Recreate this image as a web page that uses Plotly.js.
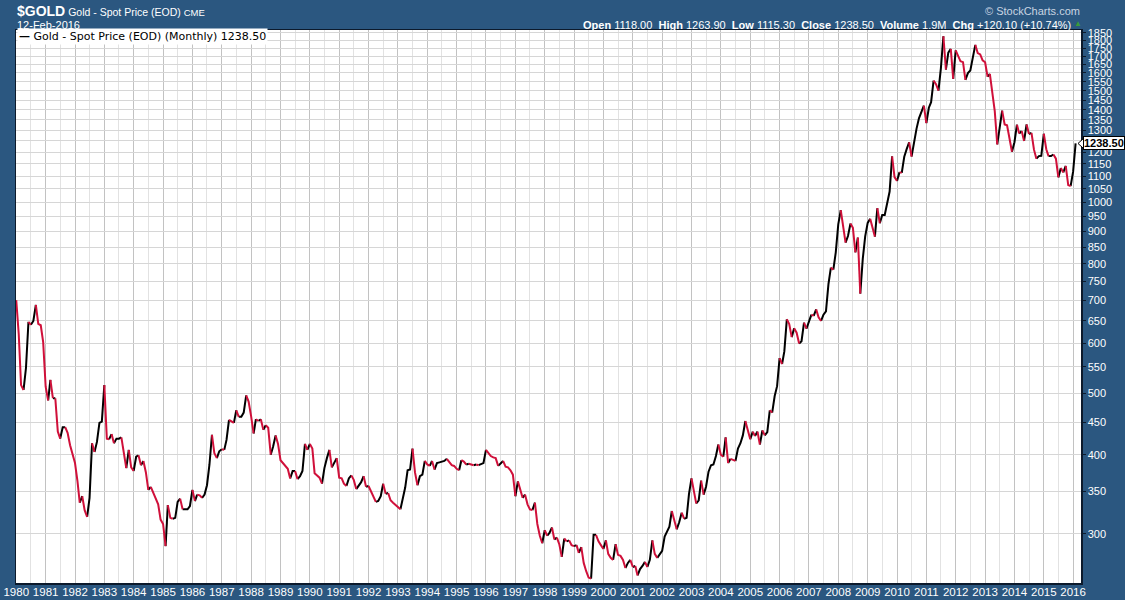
<!DOCTYPE html>
<html>
<head>
<meta charset="utf-8">
<script src="https://cdn.plot.ly/plotly-3.0.1.min.js"></script>
<style>
html,body{margin:0;padding:0;background:#2b5780;}
#chart{width:1125px;height:600px;}
</style>
</head>
<body>
<div id="chart"></div>
<script>
// Monthly closes of $GOLD (Jan .. Dec of each year)
const y1980 = [701, 620, 515, 506, 548, 648, 641, 650, 689, 643, 640, 602];
const y1981 = [512, 487, 525, 491, 491, 435, 424, 442, 442, 433, 414, 400];
const y1982 = [388, 363, 336, 344, 327, 319, 342, 417, 404, 419, 449, 451];
const y1983 = [515, 424, 423, 431, 417, 424, 424, 426, 405, 381, 407, 382];
const y1984 = [377, 397, 399, 385, 391, 375, 352, 356, 348, 340, 334, 316];
const y1985 = [311, 287, 333, 318, 317, 318, 337, 341, 328, 328, 328, 332];
const y1986 = [352, 338, 346, 345, 342, 346, 358, 386, 430, 402, 395, 405];
const y1987 = [408, 407, 422, 454, 452, 449, 470, 459, 459, 466, 496, 485];
const y1988 = [460, 432, 455, 452, 455, 438, 445, 441, 400, 412, 429, 416];
const y1989 = [392, 388, 385, 380, 367, 377, 377, 366, 370, 377, 416, 407];
const y1990 = [416, 409, 374, 371, 368, 360, 381, 395, 407, 382, 388, 395];
const y1991 = [368, 367, 360, 357, 367, 371, 365, 353, 358, 362, 370, 356];
const y1992 = [357, 350, 344, 337, 338, 344, 360, 347, 348, 339, 336, 333];
const y1993 = [331, 328, 342, 355, 378, 379, 409, 375, 358, 370, 372, 391];
const y1994 = [386, 384, 391, 379, 388, 389, 390, 391, 394, 389, 385, 384];
const y1995 = [380, 378, 392, 390, 386, 387, 386, 385, 386, 385, 387, 388];
const y1996 = [407, 402, 398, 396, 395, 384, 388, 391, 383, 382, 378, 372];
const y1997 = [344, 363, 352, 342, 346, 334, 328, 327, 336, 311, 298, 290];
const y1998 = [304, 298, 301, 307, 294, 296, 289, 276, 295, 292, 293, 288];
const y1999 = [287, 288, 280, 286, 270, 262, 256, 255, 299, 299, 292, 288];
const y2000 = [284, 293, 279, 275, 273, 289, 278, 277, 273, 265, 270, 273];
const y2001 = [266, 267, 258, 264, 267, 271, 266, 273, 293, 279, 275, 279];
const y2002 = [282, 297, 302, 308, 326, 316, 305, 313, 324, 317, 318, 347];
const y2003 = [367, 348, 335, 339, 364, 346, 356, 376, 385, 386, 398, 415];
const y2004 = [400, 397, 426, 388, 394, 393, 391, 409, 417, 429, 452, 437];
const y2005 = [423, 435, 428, 435, 415, 437, 429, 434, 470, 466, 495, 513];
const y2006 = [568, 556, 582, 654, 643, 613, 633, 623, 599, 604, 646, 632];
const y2007 = [650, 665, 662, 678, 659, 650, 665, 673, 743, 789, 783, 834];
const y2008 = [923, 972, 916, 864, 885, 926, 912, 834, 880, 718, 815, 884];
const y2009 = [928, 942, 916, 883, 979, 927, 955, 955, 1001, 1040, 1182, 1096];
const y2010 = [1081, 1116, 1113, 1180, 1213, 1244, 1181, 1246, 1307, 1357, 1386, 1421];
const y2011 = [1333, 1410, 1439, 1556, 1536, 1500, 1628, 1828, 1620, 1722, 1746, 1566];
const y2012 = [1737, 1697, 1669, 1664, 1560, 1599, 1614, 1692, 1772, 1720, 1711, 1675];
const y2013 = [1663, 1578, 1595, 1472, 1393, 1234, 1312, 1395, 1327, 1323, 1253, 1202];
const y2014 = [1244, 1326, 1284, 1296, 1250, 1327, 1282, 1287, 1211, 1172, 1183, 1184];
const y2015 = [1283, 1213, 1183, 1183, 1190, 1172, 1095, 1133, 1115, 1142, 1065, 1061];
const y2016 = [1118, 1238.5];

const startYear = 1980;
const yearSeries = [y1980,y1981,y1982,y1983,y1984,y1985,y1986,y1987,y1988,y1989,
  y1990,y1991,y1992,y1993,y1994,y1995,y1996,y1997,y1998,y1999,
  y2000,y2001,y2002,y2003,y2004,y2005,y2006,y2007,y2008,y2009,
  y2010,y2011,y2012,y2013,y2014,y2015,y2016];

// Price-axis tick labels
const yTickVals = [300,350,400,450,500,550,600,650,700,750,800,850,900,950,1000,
  1050,1100,1150,1200,1250,1300,1350,1400,1450,1500,1550,1600,1650,1700,1750,1800,1850];

// Header texts
const symbol = '$GOLD';
const seriesName = 'Gold - Spot Price (EOD)';
const exchange = 'CME';
const dateText = '12-Feb-2016';
const statLabels = ['Open','High','Low','Close','Volume','Chg'];
const statValues = ['1118.00','1263.90','1115.30','1238.50','1.9M','+120.10 (+10.74%)'];

// ---- build the monthly series ----
const dates = [], prices = [];
yearSeries.forEach((arr, yi) => {
  arr.forEach((v, mi) => {
    const yr = startYear + yi;
    dates.push(yr + '-' + String(mi + 1).padStart(2, '0') + '-01');
    prices.push(v);
  });
});

// split into rising (black) and falling (red) segments
const upX = [], upY = [], dnX = [], dnY = [];
for (let i = 0; i < prices.length - 1; i++) {
  const up = prices[i + 1] >= prices[i];
  const X = up ? upX : dnX, Y = up ? upY : dnY;
  const prevSame = i > 0 && ((prices[i] >= prices[i - 1]) === up);
  if (!prevSame) { X.push(dates[i]); Y.push(prices[i]); }
  X.push(dates[i + 1]); Y.push(prices[i + 1]);
  const nextSame = i + 2 < prices.length && ((prices[i + 2] >= prices[i + 1]) === up);
  if (!nextSame) { X.push(null); Y.push(null); }
}

const lastVal = prices[prices.length - 1];
const lastText = lastVal.toFixed(2);

const lineTraces = [
  {x: upX, y: upY, type: 'scatter', mode: 'lines', connectgaps: false,
   line: {color: '#000000', width: 2}, hoverinfo: 'skip', showlegend: false},
  {x: dnX, y: dnY, type: 'scatter', mode: 'lines', connectgaps: false,
   line: {color: '#d0103a', width: 2}, hoverinfo: 'skip', showlegend: false}
];

// plot frame in pixels
const PL = 16, PR = 1081, PT = 30, PB = 583;
const PW = PR - PL, PH = PB - PT;
const px = v => (v - PL) / PW;
const py = v => (PB - v) / PH;

const yMin = 251, yMax = 1870;
const yPaper = v => (Math.log10(v) - Math.log10(yMin)) / (Math.log10(yMax) - Math.log10(yMin));

const FONT = 'Liberation Sans, Arial, sans-serif';
const VFONT = 'DejaVu Sans, Verdana, sans-serif';

const statText = statLabels.map((l, i) => '<b>' + l + '</b> ' + statValues[i]).join('  ');

const lastY = yPaper(lastVal);
const annotations = [
  {xref: 'paper', yref: 'paper', x: px(15), y: py(11), xanchor: 'left', yanchor: 'middle',
   showarrow: false, font: {family: FONT, size: 10.5, color: '#ffffff'},
   text: '<span style="font-size:14px"><b>' + symbol + '</b></span> ' + seriesName + ' <span style="font-size:9.5px">' + exchange + '</span>'},
  {xref: 'paper', yref: 'paper', x: px(15), y: py(24.5), xanchor: 'left', yanchor: 'middle',
   showarrow: false, font: {family: FONT, size: 11, color: '#ffffff'}, text: dateText},
  {xref: 'paper', yref: 'paper', x: px(1082), y: py(11), xanchor: 'right', yanchor: 'middle',
   showarrow: false, font: {family: FONT, size: 11, color: '#c9d5e2'}, text: '\u00a9 StockCharts.com'},
  {xref: 'paper', yref: 'paper', x: px(1073), y: py(24.5), xanchor: 'right', yanchor: 'middle',
   showarrow: false, font: {family: FONT, size: 11, color: '#ffffff'}, text: statText},
  {xref: 'paper', yref: 'paper', x: px(1078), y: py(24), xanchor: 'center', yanchor: 'middle',
   showarrow: false, font: {family: FONT, size: 8, color: '#3a9a3a'}, text: '\u25b2'},
  {xref: 'paper', yref: 'paper', x: px(17), y: py(36), xanchor: 'left', yanchor: 'middle',
   showarrow: false, bgcolor: '#ffffff', borderpad: 1,
   font: {family: VFONT, size: 11, color: '#000000'},
   text: '<b>\u2014</b> ' + seriesName + ' (Monthly) ' + lastText},
  {xref: 'paper', yref: 'paper', x: px(1083), y: lastY, xanchor: 'left', yanchor: 'middle',
   showarrow: false, bgcolor: '#ffffff', bordercolor: '#000000', borderwidth: 1, borderpad: 0,
   font: {family: FONT, size: 11, color: '#000000'}, text: '<b>' + lastText + '</b>'}
];

// left-pointing notch of the last-value marker
const notchH = 5 / PH, tip = px(1078), base = px(1083.5);
const shapes = [
  {type: 'path', xref: 'paper', yref: 'paper', layer: 'above',
   path: 'M ' + base + ',' + (lastY + notchH) + ' L ' + tip + ',' + lastY + ' L ' + base + ',' + (lastY - notchH) + ' Z',
   fillcolor: '#ffffff', line: {color: '#000000', width: 1}}
];

const layout = {
  width: 1125, height: 600,
  margin: {l: PL, r: 1125 - PR, t: PT, b: 600 - PB, pad: 0},
  paper_bgcolor: '#2b5780', plot_bgcolor: '#ffffff',
  showlegend: false,
  xaxis: {
    type: 'date', range: ['1979-12-29', '2016-04-08'],
    tick0: '1980-01-01', dtick: 'M12', tickformat: '%Y',
    showgrid: true, gridcolor: '#c2c2c2', gridwidth: 1,
    minor: {dtick: 'M6', tick0: '1980-01-01', showgrid: true, gridcolor: '#e2e2e2', gridwidth: 1},
    ticks: '', ticklabelstandoff: -2,
    tickfont: {family: FONT, size: 11.5, color: '#ffffff'},
    showline: true, mirror: true, linecolor: '#0c1a2c', linewidth: 1.5,
    zeroline: false, fixedrange: true
  },
  yaxis: {
    type: 'log', range: [Math.log10(yMin), Math.log10(yMax)], side: 'right',
    tickmode: 'array', tickvals: yTickVals, ticktext: yTickVals.map(String),
    showgrid: true, gridcolor: '#d6d6d6', gridwidth: 1,
    ticks: 'outside', ticklen: 3, tickcolor: '#0c1a2c',
    tickfont: {family: FONT, size: 11, color: '#ffffff'},
    showline: true, mirror: true, linecolor: '#0c1a2c', linewidth: 1.5,
    zeroline: false, fixedrange: true
  },
  annotations: annotations,
  shapes: shapes
};

Plotly.newPlot('chart', lineTraces, layout, {staticPlot: true, displayModeBar: false});
</script>
</body>
</html>
